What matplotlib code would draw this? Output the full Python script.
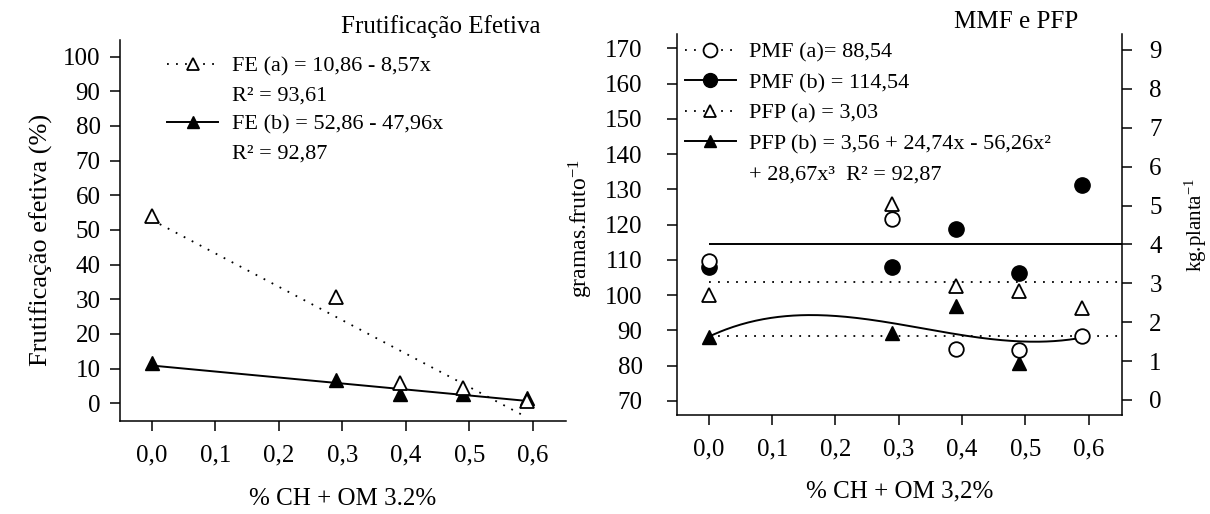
import numpy as np
import matplotlib
matplotlib.use("Agg")
import matplotlib.pyplot as plt
from matplotlib.lines import Line2D

plt.rcParams['font.family'] = ['Liberation Serif', 'DejaVu Serif']
plt.rcParams['mathtext.fontset'] = 'custom'
plt.rcParams['mathtext.rm'] = 'Liberation Serif'
plt.rcParams['mathtext.it'] = 'Liberation Serif:italic'

# doses (% CH + OM 3,2%)
x_dose = [0.0, 0.29, 0.39, 0.49, 0.59]
x_ticks = [0.0, 0.1, 0.2, 0.3, 0.4, 0.5, 0.6]
x_ticklabels = ["0,0", "0,1", "0,2", "0,3", "0,4", "0,5", "0,6"]

# frutificacao efetiva (%)
fe_a = [54.0, 30.8, 5.8, 4.3, 0.6]
fe_b = [11.7, 6.7, 2.6, 2.7, 1.6]
fit_x = [0.0, 0.59]
fe_a_fit = [52.9, -4.0]
fe_b_fit = [10.9, 0.7]
fe_yticks = [0, 10, 20, 30, 40, 50, 60, 70, 80, 90, 100]

# massa media de fruto (g) e producao por planta (kg)
pmf_a = [109.7, 121.6, 84.7, 84.5, 88.4]
pmf_b = [107.9, 107.9, 118.7, 106.4, 131.2]
pmf_a_mean = 88.54
pmf_b_mean = 114.54
pfp_a = [2.70, 5.04, 2.92, 2.79, 2.36]
pfp_b = [1.61, 1.73, 2.42, 0.96, np.nan]  # ultimo ponto escondido atras do circulo
pfp_a_mean = 3.03
# curva PFP (b)
curve_x = [0.0, 0.1, 0.17, 0.2, 0.27, 0.39, 0.49, 0.59]
curve_y = [1.65, 2.06, 2.19, 2.17, 2.06, 1.70, 1.47, 1.62]
pmf_yticks = [70, 80, 90, 100, 110, 120, 130, 140, 150, 160, 170]
pfp_yticks = [0, 1, 2, 3, 4, 5, 6, 7, 8, 9]

W, H = 1210, 514
fig = plt.figure(figsize=(W / 100, H / 100), dpi=100)

tick_kw = dict(direction='out', length=7, width=1.1, labelsize=18, pad=7)
dot = (0, (1, 4))
ms_tri = 10
ms_circ = 11


def style_x(ax):
    ax.set_xlim(-0.05, 0.652)
    ax.set_xticks(x_ticks)
    ax.set_xticklabels(x_ticklabels)
    ax.tick_params(axis='x', pad=10)


leg_kw = dict(loc='upper left', frameon=False, fontsize=16, borderpad=0,
              borderaxespad=0, handlelength=2.3, handletextpad=0.6,
              numpoints=1)

# ---------------- painel esquerdo ----------------
ax1 = fig.add_axes([120 / W, 1 - 421 / H, 446 / W, 381 / H])
ax1.spines['top'].set_visible(False)
ax1.spines['right'].set_visible(False)
for s in ['left', 'bottom']:
    ax1.spines[s].set_linewidth(1.1)
ax1.tick_params(**tick_kw)
style_x(ax1)
ax1.set_ylim(-5.1, 104.8)
ax1.set_yticks(fe_yticks)

ax1.plot(fit_x, fe_a_fit, color='black', linestyle=dot, lw=1.3)
ax1.plot(fit_x, fe_b_fit, color='black', linestyle='-', lw=1.4)
ax1.plot(x_dose, fe_b, linestyle='none', marker='^', ms=ms_tri,
         color='black')
ax1.plot(x_dose, fe_a, linestyle='none', marker='^', ms=ms_tri,
         mfc='white', mec='black', mew=1.3)

h1 = [
    Line2D([], [], color='black', linestyle=dot, lw=1.3, marker='^', ms=ms_tri - 1,
           mfc='white', mec='black', mew=1.3),
    Line2D([], [], color='none'),
    Line2D([], [], color='black', linestyle='-', lw=1.4, marker='^', ms=ms_tri - 1),
    Line2D([], [], color='none'),
]
l1 = ["FE (a) = 10,86 - 8,57x", "R² = 93,61",
      "FE (b) = 52,86 - 47,96x", "R² = 92,87"]
ax1.legend(h1, l1, bbox_to_anchor=(0.106, 0.958), labelspacing=0.38, **leg_kw)

ax1.set_ylabel("Frutificação efetiva (%)", fontsize=19)
ax1.yaxis.set_label_coords(-0.150, 0.475)
ax1.set_xlabel("% CH + OM 3.2%", fontsize=18)
ax1.xaxis.set_label_coords(0.5, -0.176)
ax1.text(0.72, 1.035, "Frutificação Efetiva", fontsize=18,
         ha='center', va='center', transform=ax1.transAxes)

# ---------------- painel direito ----------------
ax = fig.add_axes([677.3 / W, 1 - 415 / H, 444.2 / W, 381 / H])
ax2 = ax.twinx()
ax.set_zorder(ax2.get_zorder() + 1)
ax.patch.set_visible(False)

ax.spines['top'].set_visible(False)
ax.spines['right'].set_visible(False)
for s in ['top', 'left', 'bottom']:
    ax2.spines[s].set_visible(False)
for s in ['left', 'bottom']:
    ax.spines[s].set_linewidth(1.1)
ax2.spines['right'].set_linewidth(1.1)

ax.tick_params(**tick_kw)
ax.tick_params(axis='y', pad=18)
ax2.tick_params(**tick_kw)
ax2.tick_params(axis='y', pad=13)
style_x(ax)
ax.set_ylim(66.03, 174.06)
ax.set_yticks(pmf_yticks)
ax2.set_ylim(-0.386, 9.41)
ax2.set_yticks(pfp_yticks)

xmax = ax.get_xlim()[1]
# PFP (eixo direito)
ax2.hlines(pfp_a_mean, 0, xmax, color='black', linestyle=dot, lw=1.3)
cx = np.linspace(min(curve_x), max(curve_x), 200)
coef = np.polyfit(curve_x, curve_y, 3)
ax2.plot(cx, np.polyval(coef, cx), color='black', lw=1.4)
ax2.plot(x_dose, pfp_b, linestyle='none', marker='^', ms=ms_tri, color='black')
ax2.plot(x_dose, pfp_a, linestyle='none', marker='^', ms=ms_tri,
         mfc='white', mec='black', mew=1.3)

# PMF (eixo esquerdo)
ax.hlines(pmf_a_mean, 0, xmax, color='black', linestyle=dot, lw=1.3)
ax.hlines(pmf_b_mean, 0, xmax, color='black', linestyle='-', lw=1.4)
ax.plot(x_dose, pmf_b, linestyle='none', marker='o', ms=ms_circ, color='black')
ax.plot(x_dose, pmf_a, linestyle='none', marker='o', ms=ms_circ - 0.5,
        mfc='white', mec='black', mew=1.3)

h2 = [
    Line2D([], [], color='black', linestyle=dot, lw=1.3, marker='o', ms=ms_circ - 1,
           mfc='white', mec='black', mew=1.3),
    Line2D([], [], color='black', linestyle='-', lw=1.4, marker='o', ms=ms_circ - 1),
    Line2D([], [], color='black', linestyle=dot, lw=1.3, marker='^', ms=ms_tri - 1,
           mfc='white', mec='black', mew=1.3),
    Line2D([], [], color='black', linestyle='-', lw=1.4, marker='^', ms=ms_tri - 1),
    Line2D([], [], color='none'),
]
l2 = ["PMF (a)= 88,54", "PMF (b) = 114,54", "PFP (a) = 3,03",
      "PFP (b) = 3,56 + 24,74x - 56,26x²", "+ 28,67x³  R² = 92,87"]
ax.legend(h2, l2, bbox_to_anchor=(0.017, 0.979), labelspacing=0.45, **leg_kw)

ax.set_ylabel("gramas.fruto$^{-1}$", fontsize=17)
ax.yaxis.set_label_coords(-0.185, 0.49)
ax2.set_ylabel("kg.planta$^{-1}$", fontsize=15)
ax2.yaxis.set_label_coords(1.138, 0.5)
ax.set_xlabel("% CH + OM 3,2%", fontsize=18)
ax.xaxis.set_label_coords(0.5, -0.171)
ax.text(0.762, 1.031, "MMF e PFP", fontsize=18,
        ha='center', va='center', transform=ax.transAxes)

fig.savefig("out.png", dpi=100)
